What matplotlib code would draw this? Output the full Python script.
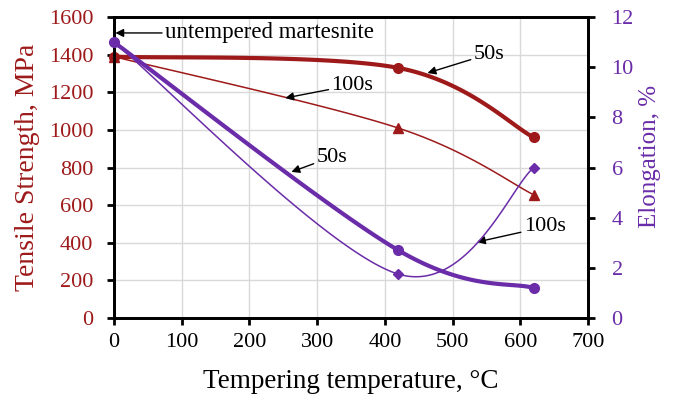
import numpy as np
import matplotlib
matplotlib.use("Agg")
import matplotlib.pyplot as plt

# ---- data ----
temps = [0, 420, 620]
ts_50s = [1390, 1330, 960]      # MPa
ts_100s = [1390, 1010, 655]     # MPa
el_50s = [11.0, 2.7, 1.2]       # %
el_100s = [11.0, 1.75, 6.0]     # %

x_ticks = [0, 100, 200, 300, 400, 500, 600, 700]
y1_ticks = [0, 200, 400, 600, 800, 1000, 1200, 1400, 1600]
y2_ticks = [0, 2, 4, 6, 8, 10, 12]

RED = "#9E1A1A"
PURPLE = "#6A2CA8"
FONT = "Liberation Serif"
plt.rcParams['font.family'] = [FONT, 'DejaVu Serif']


def smooth(xs, ys, sx, sy, n=60):
    """Excel-like smoothed line (Bezier with 1/6 tangent), computed in scaled space."""
    P = np.column_stack([np.asarray(xs, float) * sx, np.asarray(ys, float) * sy])
    m = len(P)
    out = []
    for i in range(m - 1):
        p0 = P[i - 1] if i > 0 else P[i]
        p1 = P[i]
        p2 = P[i + 1]
        p3 = P[i + 2] if i + 2 < m else P[i + 1]
        c1 = p1 + (p2 - p0) / 6.0
        c2 = p2 - (p3 - p1) / 6.0
        t = np.linspace(0, 1, n)[:, None]
        seg = ((1 - t) ** 3) * p1 + 3 * ((1 - t) ** 2) * t * c1 + 3 * (1 - t) * t ** 2 * c2 + t ** 3 * p2
        out.append(seg if i == 0 else seg[1:])
    out = np.vstack(out)
    return out[:, 0] / sx, out[:, 1] / sy


fig = plt.figure(figsize=(6.81, 3.99), dpi=100)
ax = fig.add_axes([0.1674, 0.203, 0.696, 0.754])
ax2 = ax.twinx()

ax.set_xlim(0, 700)
ax.set_ylim(0, 1600)
ax2.set_ylim(0, 12)

sx = 474 / 700.0
sy1 = 300 / 1600.0
sy2 = 300 / 12.0

# red series
xs, ys = smooth(temps, ts_50s, sx, sy1)
ax.plot(xs, ys, color=RED, lw=3.0, clip_on=False, zorder=3)
ax.plot(temps, ts_50s, 'o', color=RED, ms=7, clip_on=False, zorder=4)
xs, ys = smooth(temps, ts_100s, sx, sy1)
ax.plot(xs, ys, color=RED, lw=1.1, clip_on=False, zorder=3)
ax.plot(temps, ts_100s, '^', color=RED, ms=7, clip_on=False, zorder=4)

# purple series
xs, ys = smooth(temps, el_50s, sx, sy2)
ax2.plot(xs, ys, color=PURPLE, lw=3.0, clip_on=False, zorder=3)
ax2.plot(temps, el_50s, 'o', color=PURPLE, ms=7, clip_on=False, zorder=4)
xs, ys = smooth(temps, el_100s, sx, sy2)
ax2.plot(xs, ys, color=PURPLE, lw=1.1, clip_on=False, zorder=3)
ax2.plot(temps, el_100s, 'D', color=PURPLE, ms=5, clip_on=False, zorder=4)

# grid
ax.set_xticks(x_ticks)
ax.set_yticks(y1_ticks)
ax2.set_yticks(y2_ticks)
ax.grid(True, color="#d9d9d9", lw=1.0, zorder=0)
ax.set_axisbelow(True)

for a in (ax, ax2):
    for s in a.spines.values():
        s.set_color("black")
        s.set_linewidth(2.0)

ax.tick_params(axis='x', direction='out', length=5, width=2, colors='black',
               labelsize=16, pad=6)
ax.tick_params(axis='y', direction='out', length=5, width=2, color='black',
               labelcolor=RED, labelsize=16, pad=10)
ax2.tick_params(axis='y', direction='out', length=5, width=2, color='black',
                labelcolor=PURPLE, labelsize=16, pad=12)
for lab in ax.get_xticklabels() + ax.get_yticklabels() + ax2.get_yticklabels():
    lab.set_fontfamily(FONT)

xl = ax.set_xlabel("Tempering temperature, °C", fontsize=19.5, color='black', va='center')
yl = ax.set_ylabel("Tensile Strength, MPa", fontsize=20, color=RED, va='center')
yr = ax2.set_ylabel("Elongation, %", fontsize=18, color=PURPLE, va='center')
ax.xaxis.set_label_coords(0.5, -0.21)
ax.yaxis.set_label_coords(-0.183, 0.5)
ax2.yaxis.set_label_coords(1.131, 0.537)

arrow = dict(arrowstyle='-|>', color='black', lw=1.0, mutation_scale=12, shrinkA=0, shrinkB=0)
ax.annotate("untempered martesnite", xy=(2, 1516), xytext=(75, 1516), fontsize=16.5,
            ha='left', va='center', arrowprops=arrow, annotation_clip=False, zorder=6)
ax.annotate("50s", xy=(463, 1303), xytext=(531, 1404), fontsize=16,
            ha='left', va='center', arrowprops=arrow, zorder=6)
ax.annotate("100s", xy=(253, 1170), xytext=(321, 1239), fontsize=16,
            ha='left', va='center', arrowprops=arrow, zorder=6)
ax.annotate("50s", xy=(262, 777), xytext=(299, 856), fontsize=16,
            ha='left', va='center', arrowprops=arrow, zorder=6)
ax.annotate("100s", xy=(536, 404), xytext=(605, 484), fontsize=16,
            ha='left', va='center', arrowprops=arrow, zorder=6)

fig.savefig("out.png", dpi=100)
